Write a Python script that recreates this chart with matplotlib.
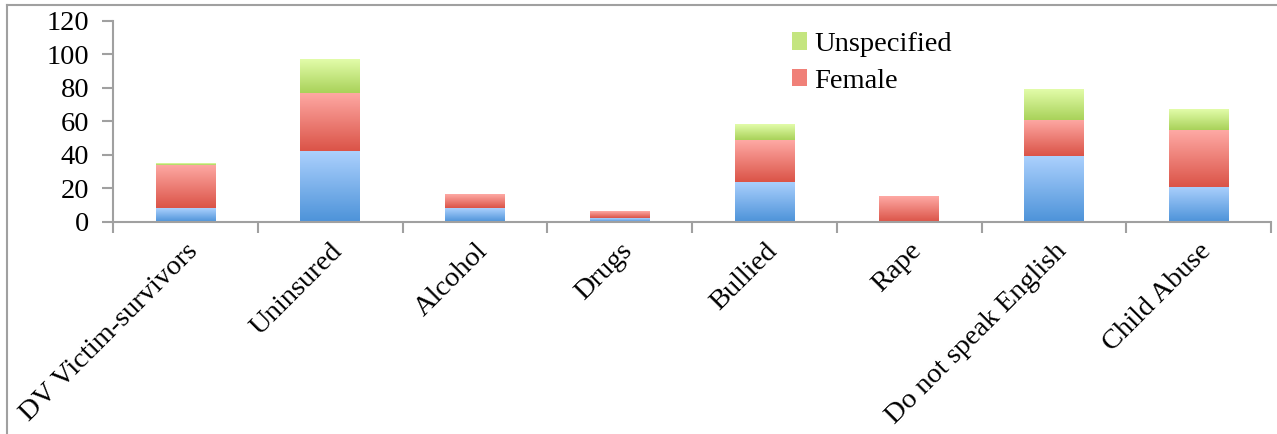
import numpy as np
import matplotlib.pyplot as plt
from matplotlib.colors import LinearSegmentedColormap
from matplotlib.lines import Line2D
from matplotlib.patches import Patch

categories = ['DV Victim-survivors', 'Uninsured', 'Alcohol', 'Drugs', 'Bullied',
              'Rape', 'Do not speak English', 'Child Abuse']
male = [8, 42, 8, 2, 24, 0, 39, 21]
female = [26, 35, 8, 4, 25, 15, 22, 34]
unspecified = [1, 20, 0, 0, 9, 0, 18, 12]

plt.rcParams['font.family'] = ['Liberation Serif', 'DejaVu Serif']

# colores (abajo -> arriba) para el degradado de cada serie
grad_male = ('#4d93d9', '#abd0fd')
grad_female = ('#db5448', '#fea9a4')
grad_unspec = ('#a9d25a', '#e2fca9')

fig = plt.figure(figsize=(12.77, 4.34), dpi=100)
ax = fig.add_axes([0.0885, 0.489, 0.9068, 0.463])

x = np.arange(len(categories))
width = 0.41

bottom = np.zeros(len(categories))
for vals, grad in [(male, grad_male), (female, grad_female), (unspecified, grad_unspec)]:
    bars = ax.bar(x, vals, width, bottom=bottom, color='none', edgecolor='none')
    cmap = LinearSegmentedColormap.from_list('g', grad)
    for b in bars:
        h = b.get_height()
        if h <= 0:
            continue
        x0, y0 = b.get_x(), b.get_y()
        ax.imshow(np.linspace(0, 1, 64).reshape(-1, 1), cmap=cmap, origin='lower',
                  extent=[x0, x0 + b.get_width(), y0, y0 + h], aspect='auto', zorder=2)
    bottom += np.array(vals)

ax.set_xlim(-0.5, len(categories) - 0.5)
ax.set_ylim(0, 120)
ax.set_yticks(range(0, 121, 20))
ax.set_xticks(np.arange(-0.5, len(categories), 1.0), minor=False)
ax.set_xticklabels([])
ax.set_xticks(x, minor=True)
ax.set_xticklabels(categories, minor=True, rotation=45, ha='right',
                   rotation_mode='anchor', fontsize=20.5)
ax.tick_params(axis='x', which='minor', length=0, pad=12)
ax.tick_params(axis='x', which='major', length=8, width=1.5, color='#a0a0a0', direction='out')
ax.tick_params(axis='y', length=8, width=1.5, color='#a0a0a0', direction='out', labelsize=20.5, pad=9)

for s in ['top', 'right']:
    ax.spines[s].set_visible(False)
for s in ['left', 'bottom']:
    ax.spines[s].set_color('#a0a0a0')
    ax.spines[s].set_linewidth(1.5)

handles = [Patch(facecolor='#c4e57f', label='Unspecified'),
           Patch(facecolor='#f08078', label='Female')]
fig.legend(handles=handles, loc='upper left', bbox_to_anchor=(0.6, 0.985),
           frameon=False, fontsize=20.5, handlelength=0.55, handleheight=0.55,
           handletextpad=0.25, labelspacing=0.4)

# marco exterior (solo arriba e izquierda)
fig.add_artist(Line2D([7 / 1277, 1], [1 - 5 / 434, 1 - 5 / 434], color='#a0a0a0', lw=1.5))
fig.add_artist(Line2D([7 / 1277, 7 / 1277], [0, 1 - 5 / 434], color='#a0a0a0', lw=1.5))

plt.savefig('out.png', dpi=100)
